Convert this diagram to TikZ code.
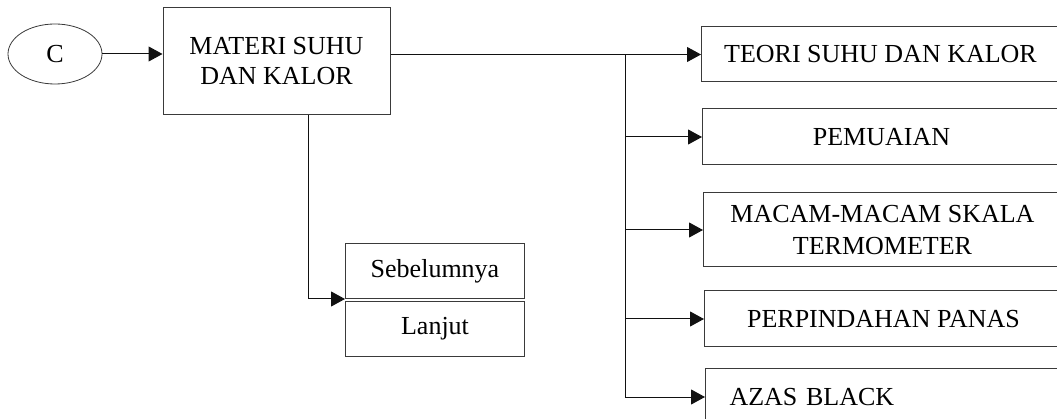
\documentclass[tikz,border=0pt]{standalone}
\usepackage{fontspec}
\setmainfont{Liberation Serif}
\usetikzlibrary{arrows.meta,positioning,calc,shapes.geometric}
\definecolor{ink}{HTML}{111111}
\definecolor{rim}{HTML}{3A3A3A}

\begin{document}
\begin{tikzpicture}[
  x=1pt,y=-1pt,
  box/.style={draw=rim,line width=1pt,fill=white,minimum width=358pt,align=center,inner sep=2pt,font=\fontsize{26}{30}\selectfont},
  menu/.style={box,minimum width=179pt,minimum height=55pt},
  arr/.style={-{Triangle[length=14pt,width=15pt]},line width=1pt,color=ink}
]
\useasboundingbox (0,0) rectangle (1057,419);
\clip (0,0) rectangle (1057,419);
\node[draw=rim,line width=0.8pt,ellipse,minimum width=94pt,minimum height=60pt,font=\fontsize{26}{30}\selectfont] (ctr) at (55,54) {C};
\node[box,minimum width=227pt,minimum height=107pt] (mat) at (276.5,61.5) {MATERI SUHU\\DAN KALOR};
\node[box,minimum height=55pt,anchor=west] (teori) at (701,54.5) {TEORI SUHU DAN KALOR};
\node[box,minimum height=56pt,anchor=west] (pem) at (702,137) {PEMUAIAN};
\node[box,minimum height=74pt,anchor=west,font=\fontsize{26}{32}\selectfont] (skala) at (703,230) {MACAM-MACAM SKALA\\TERMOMETER};
\node[box,minimum height=56pt,anchor=west] (pind) at (704,319) {PERPINDAHAN PANAS};
\node[box,minimum height=58pt,anchor=west,text width=310pt,align=left,inner xsep=22pt] (azas) at (705,397) {AZAS BLACK};
\node[menu,anchor=north west] (seb) at (345,243) {Sebelumnya};
\node[menu,anchor=north west] (lanj) at (345,301) {Lanjut};
\coordinate (br) at (625,0);
% entry and main branch
\draw[arr] (ctr.east) -- (ctr.east -| mat.west);
\draw[arr] (mat.east |- teori.west) -- (teori.west);
\draw[line width=1pt,ink] (br |- teori.west) -- (br |- azas.west);
\foreach \n in {pem,skala,pind,azas}
  \draw[arr] (br |- \n.west) -- (\n.west);
% navigation
\draw[arr] ($(mat.south west)!0.64!(mat.south east)$) |- (seb.south west);
\end{tikzpicture}
\end{document}
